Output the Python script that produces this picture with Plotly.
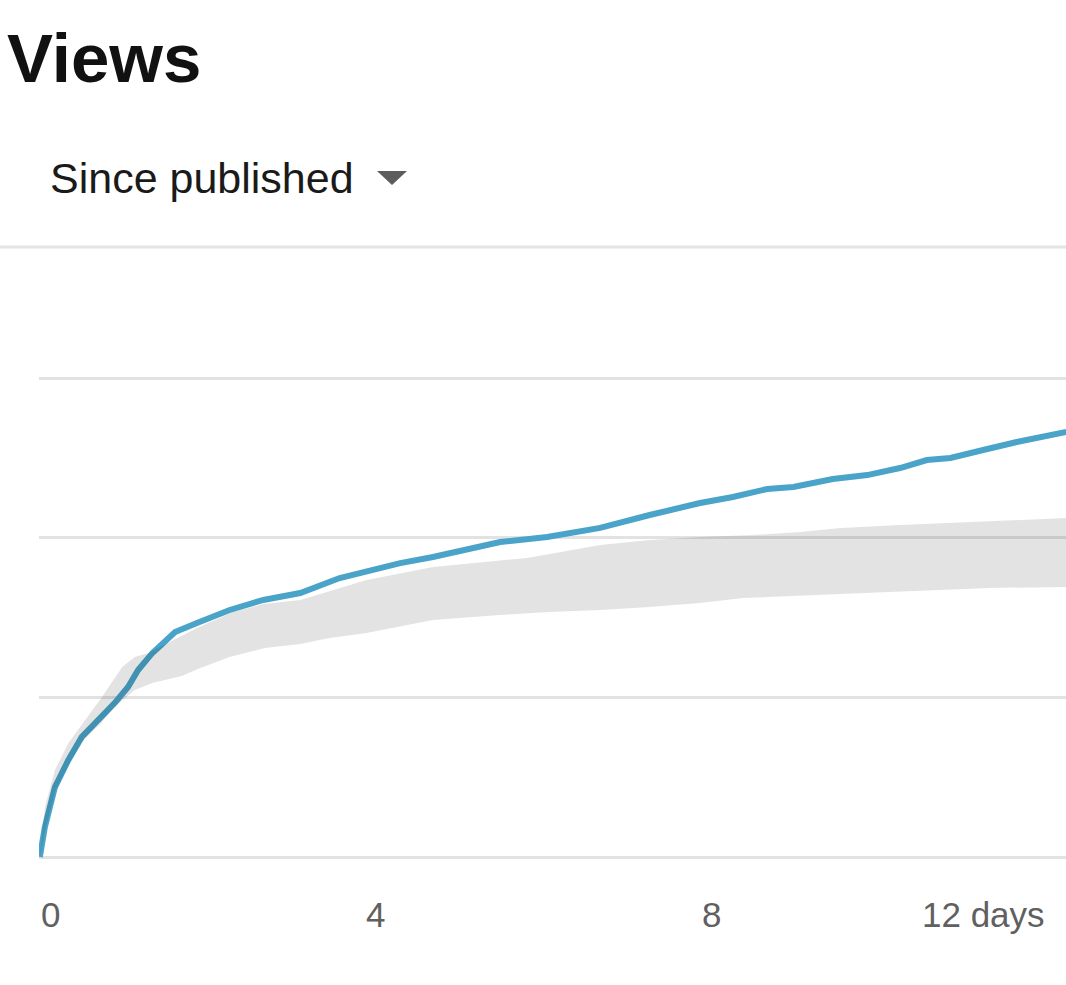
import plotly.graph_objects as go

# ---- data ----
days = [0.01, 0.02, 0.07, 0.19, 0.35, 0.51, 0.75, 0.90, 1.06, 1.18,
        1.35, 1.62, 1.88, 2.27, 2.67, 3.11, 3.58, 4.30, 4.69, 5.10,
        5.49, 6.05, 6.68, 7.27, 7.87, 8.26, 8.67, 8.98, 9.45, 9.86,
        10.25, 10.57, 10.85, 11.24, 11.64, 12.23]
views = [0, 25, 188, 438, 608, 752, 877, 964, 1065, 1171,
         1278, 1409, 1466, 1547, 1610, 1653, 1747, 1841, 1879, 1923,
         1973, 2004, 2061, 2142, 2217, 2255, 2305, 2317, 2367, 2392,
         2436, 2486, 2499, 2549, 2599, 2662]

typical_high_days = [0.01, 0.07, 0.19, 0.35, 0.55, 0.75, 0.99, 1.14, 1.30, 1.60,
                     1.88, 2.31, 2.67, 3.11, 3.90, 4.69, 5.49, 5.81, 6.68, 7.27,
                     7.87, 8.50, 9.06, 9.54, 10.25, 11.05, 11.83, 12.23]
typical_high = [0, 313, 545, 714, 858, 1002, 1190, 1253, 1278, 1359,
                1434, 1534, 1585, 1610, 1735, 1816, 1860, 1873, 1954, 1985,
                2004, 2017, 2035, 2061, 2079, 2098, 2117, 2123]

typical_low_days = [0.01, 0.07, 0.19, 0.35, 0.51, 0.75, 0.90, 1.14, 1.35, 1.70,
                    1.92, 2.27, 2.69, 3.11, 3.46, 3.90, 4.69, 5.49, 6.08, 6.68,
                    7.27, 7.87, 8.38, 9.14, 10.13, 11.32, 12.23]
typical_low = [0, 157, 407, 576, 720, 846, 939, 1046, 1090, 1134,
               1184, 1253, 1309, 1334, 1372, 1403, 1484, 1516, 1534, 1547,
               1566, 1591, 1622, 1641, 1660, 1685, 1691]

x_tick_vals = [0, 4, 8, 12]
x_tick_text = ["0", "4", "8", "12 days"]
y_grid_vals = [0, 1000, 2000, 3000]

title_text = "Views"
subtitle_text = "Since published"

# ---- figure ----
W, H = 1066, 985
ML, MR, MT, MB = 39, 0, 305, 124
PW, PH = W - ML - MR, H - MT - MB


def px_x(px):
    return (px - ML) / PW


def px_y(py):
    return (H - MB - py) / PH


fig = go.Figure()

fig.add_trace(go.Scatter(
    x=days, y=views, mode="lines",
    line=dict(color="#4AA3C8", width=6),
    hoverinfo="skip", showlegend=False,
))

band_x = typical_high_days + typical_low_days[::-1]
band_y = typical_high + typical_low[::-1]
fig.add_trace(go.Scatter(
    x=band_x, y=band_y, mode="lines", fill="toself",
    fillcolor="rgba(0,0,0,0.11)", line=dict(width=0, color="rgba(0,0,0,0)"),
    hoverinfo="skip", showlegend=False,
))

font_family = "Liberation Sans, Arial, sans-serif"

annotations = [
    dict(text="<b>%s</b>" % title_text, x=px_x(5), y=px_y(58), xref="paper", yref="paper",
         xanchor="left", yanchor="middle", showarrow=False,
         font=dict(family=font_family, size=69, color="#111111")),
    dict(text=subtitle_text, x=px_x(48), y=px_y(178), xref="paper", yref="paper",
         xanchor="left", yanchor="middle", showarrow=False,
         font=dict(family=font_family, size=43, color="#1a1a1a")),
]
anchors = ["left", "center", "center", "right"]
for v, t, a in zip(x_tick_vals, x_tick_text, anchors):
    annotations.append(dict(
        text=t, x=v, y=px_y(914), xref="x", yref="paper",
        xanchor=a, yanchor="middle", showarrow=False,
        font=dict(family=font_family, size=35, color="#606060")))

shapes = [
    dict(type="line", xref="paper", yref="paper",
         x0=px_x(0), x1=px_x(W), y0=px_y(247), y1=px_y(247),
         line=dict(color="#e4e4e4", width=3)),
    dict(type="path", xref="paper", yref="paper",
         path="M %f %f L %f %f L %f %f Z" % (px_x(377), px_y(171), px_x(407), px_y(171),
                                            px_x(392), px_y(185)),
         fillcolor="#5c5c5c", line=dict(width=0)),
]

fig.update_layout(
    width=W, height=H,
    margin=dict(l=ML, r=MR, t=MT, b=MB, pad=0),
    paper_bgcolor="white", plot_bgcolor="white",
    showlegend=False,
    annotations=annotations,
    shapes=shapes,
    xaxis=dict(range=[0, PW / 84.0], showgrid=False, zeroline=False,
               showticklabels=False, ticks="", showline=False, fixedrange=True),
    yaxis=dict(range=[-25, -25 + PH * 1000 / 159.67], tickvals=y_grid_vals,
               showgrid=True, gridcolor="#e2e2e2", gridwidth=3,
               zeroline=False, showticklabels=False, ticks="", showline=False,
               fixedrange=True),
)

fig.write_html("out.html", config={"displayModeBar": False},
               post_script="document.body.style.margin='0';document.body.style.overflow='hidden';")
